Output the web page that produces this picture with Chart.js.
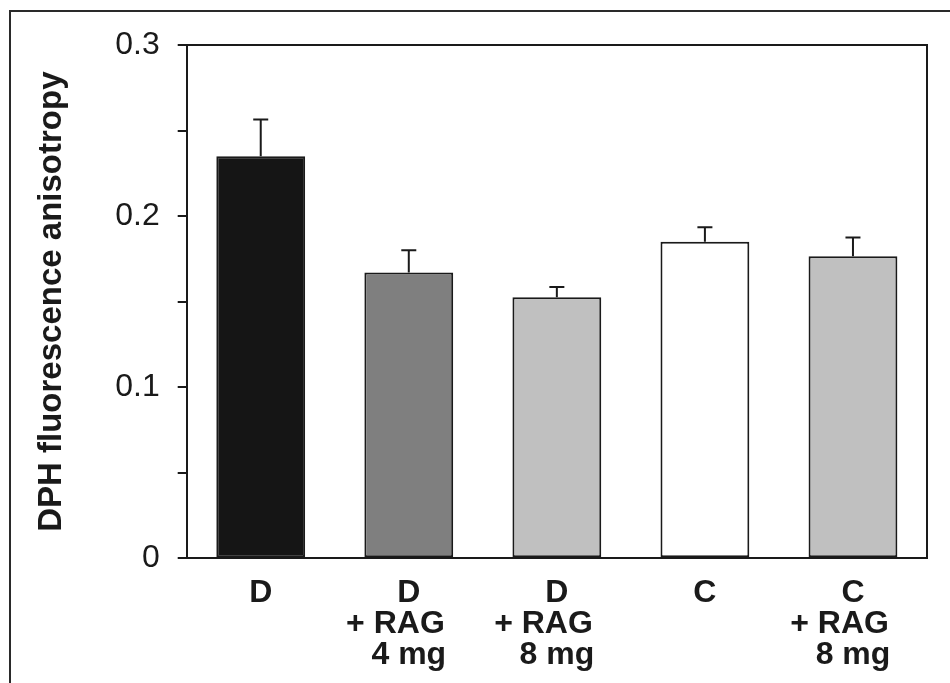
<!DOCTYPE html>
<html>
<head>
<meta charset="utf-8">
<script src="https://cdn.jsdelivr.net/npm/chart.js@4/dist/chart.umd.min.js"></script>
<style>
  html, body { margin: 0; padding: 0; background: #ffffff; }
  #wrap { position: relative; width: 950px; height: 683px; overflow: hidden; }
  #frame { position: absolute; left: 9px; top: 10px; width: 2000px; height: 2000px;
           border-left: 2px solid #2a2a2a; border-top: 2px solid #2a2a2a; box-sizing: border-box; }
  #c { position: absolute; left: 0; top: 0; }
</style>
</head>
<body>
<div id="wrap">
  <div id="frame"></div>
  <canvas id="c" width="950" height="683"></canvas>
</div>
<script>
// ---- data ----
const categories = [
  ['D'],
  ['D', '+ RAG   ', '4 mg'],
  ['D', '+ RAG   ', '8 mg'],
  ['C'],
  ['C', '+ RAG   ', '8 mg']
];
const anisotropy = [0.235, 0.167, 0.1525, 0.185, 0.1765];
const sem = [0.0215, 0.013, 0.006, 0.0085, 0.011];
const barColors = ['#151515', '#7f7f7f', '#c0c0c0', '#ffffff', '#c0c0c0'];
const yTickLabels = { 0: '0', 10: '0.1', 20: '0.2', 30: '0.3' };
const yTitle = 'DPH fluorescence anisotropy';

const FONT = "'Liberation Sans', Arial, Helvetica, sans-serif";
const INK = '#1a1a1a';

const errorBars = {
  id: 'errorBars',
  afterDatasetsDraw(chart) {
    const meta = chart.getDatasetMeta(0);
    const y = chart.scales.y;
    const ctx = chart.ctx;
    ctx.save();
    ctx.strokeStyle = INK;
    ctx.lineWidth = 2;
    meta.data.forEach((bar, i) => {
      const yb = y.getPixelForValue(anisotropy[i]);
      const yt = y.getPixelForValue(anisotropy[i] + sem[i]);
      ctx.beginPath();
      ctx.moveTo(bar.x, yb);
      ctx.lineTo(bar.x, yt);
      ctx.moveTo(bar.x - 7.5, yt);
      ctx.lineTo(bar.x + 7.5, yt);
      ctx.stroke();
    });
    ctx.restore();
  }
};

const boxFrame = {
  id: 'boxFrame',
  afterDraw(chart) {
    const a = chart.chartArea;
    const ctx = chart.ctx;
    ctx.save();
    ctx.strokeStyle = INK;
    ctx.lineWidth = 2;
    ctx.beginPath();
    ctx.moveTo(a.left, a.top);
    ctx.lineTo(a.right, a.top);
    ctx.lineTo(a.right, a.bottom);
    ctx.stroke();
    ctx.restore();
  }
};

new Chart(document.getElementById('c'), {
  type: 'bar',
  data: {
    labels: categories,
    datasets: [{
      data: anisotropy,
      backgroundColor: barColors,
      borderColor: INK,
      borderWidth: 2,
      borderSkipped: false,
      barPercentage: 0.6,
      categoryPercentage: 1.0
    }]
  },
  options: {
    responsive: false,
    animation: false,
    events: [],
    layout: { padding: { left: 32, right: 23, top: 45, bottom: 0 } },
    plugins: { legend: { display: false }, tooltip: { enabled: false } },
    scales: {
      x: {
        offset: true,
        grid: { display: false, drawTicks: false },
        border: { display: true, color: INK, width: 2 },
        ticks: {
          color: INK,
          padding: 19,
          autoSkip: false,
          maxRotation: 0,
          font: { family: FONT, size: 32, weight: 'bold', lineHeight: 0.97 }
        },
        afterFit(s) { s.height = 124.7; }
      },
      y: {
        min: 0,
        max: 0.3,
        grid: { drawOnChartArea: false, drawTicks: true, tickLength: 9, color: INK, lineWidth: 2 },
        border: { display: true, color: INK, width: 2 },
        ticks: {
          stepSize: 0.05,
          padding: 18,
          color: INK,
          font: { family: FONT, size: 32 },
          callback(v) {
            const k = Math.round(v * 100);
            return yTickLabels[k] !== undefined ? yTickLabels[k] : '';
          }
        },
        title: {
          display: true,
          text: yTitle,
          color: INK,
          padding: { top: 0, bottom: 0 },
          font: { family: FONT, size: 33, weight: 'bold', lineHeight: 1.2 }
        },
        afterFit(s) { s.width = 154.7; }
      }
    }
  },
  plugins: [errorBars, boxFrame]
});
</script>
</body>
</html>
